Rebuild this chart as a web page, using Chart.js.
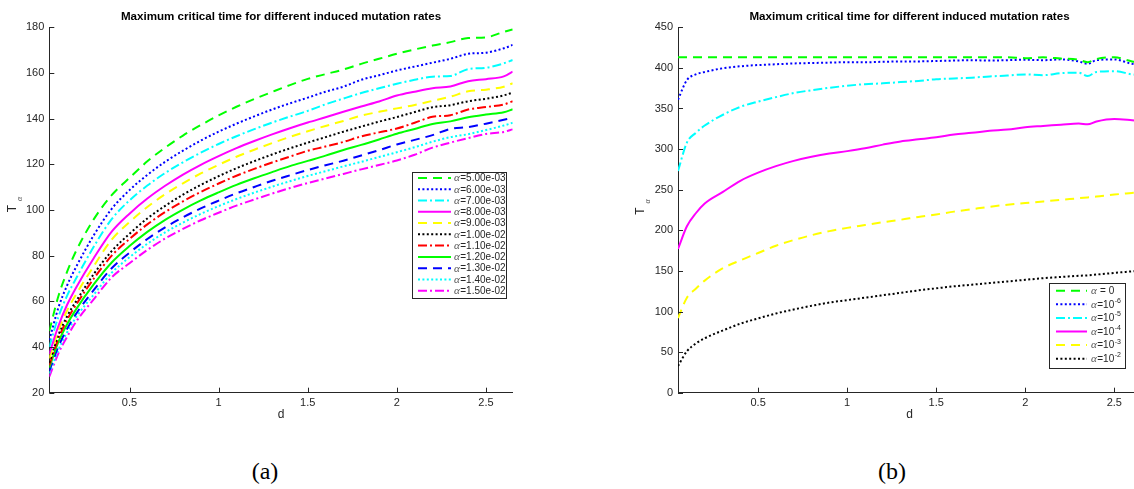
<!DOCTYPE html>
<html>
<head>
<meta charset="utf-8">
<script src="https://cdn.jsdelivr.net/npm/chart.js@4.4.0/dist/chart.umd.min.js"></script>
<style>
  html, body { margin: 0; padding: 0; background: #fff; width: 1134px; height: 489px; overflow: hidden; }
  .panel { position: absolute; top: 0; }
  #pa { left: 0; }
  #pb { left: 600px; }
  .cap { position: absolute; top: 454px; line-height: 34px; font-family: "Liberation Serif", "DejaVu Serif", serif;
         font-size: 24px; color: #000; transform: translateX(-50%); }
</style>
</head>
<body>
<div class="panel" id="pa"><canvas id="ca" width="540" height="440"></canvas></div>
<div class="panel" id="pb"><canvas id="cb" width="560" height="440"></canvas></div>
<div class="cap" style="left:265px">(a)</div>
<div class="cap" style="left:892px">(b)</div>

<script>
// ---------- panel (a): T_alpha versus d for induced mutation rates ----------
const dA = [0.05, 0.1, 0.15, 0.2, 0.3, 0.4, 0.5, 0.6, 0.7, 0.8, 0.9, 1.0, 1.1, 1.2, 1.3, 1.4,
            1.5, 1.6, 1.7, 1.8, 1.9, 2.0, 2.1, 2.2, 2.3, 2.4, 2.5, 2.6, 2.65];
const alphaA = ['5.00e-03', '6.00e-03', '7.00e-03', '8.00e-03', '9.00e-03', '1.00e-02',
                '1.10e-02', '1.20e-02', '1.30e-02', '1.40e-02', '1.50e-02'];
const T_a5e3  = [47, 62, 73, 82, 96, 106.5, 114.1, 121.3, 127.3, 132.6, 137.2, 141.4, 145.2, 148.6, 151.7, 154.7,
                 157.4, 159.5, 161.5, 164, 166.2, 168.4, 170.3, 172, 173.5, 175.3, 175.6, 178, 179];
const T_a6e3  = [43, 57, 67, 75, 89, 100.5, 108.7, 115.4, 121.1, 126, 130.4, 134.3, 137.8, 141, 144, 146.7,
                 149.2, 151.8, 154, 157, 159, 161.1, 162.8, 164.5, 166.2, 168.4, 168.9, 170.8, 172.3];
const T_a7e3  = [40, 53, 62.5, 70, 84, 96, 104.2, 110.7, 116.2, 120.9, 125.1, 128.9, 132.3, 135.4, 138.3, 140.9,
                 143.4, 146.3, 148.8, 151.2, 153.3, 155.3, 157, 158.4, 158.7, 161.7, 162.3, 164.2, 165.7];
const T_a8e3  = [37, 49, 58.5, 66, 79, 90.5, 98.4, 105, 110.6, 115.5, 119.8, 123.6, 127.1, 130.2, 133.1, 135.8,
                 138.3, 140.6, 143, 145.3, 147.5, 150.1, 151.8, 153.3, 154.1, 156.4, 157.3, 158.5, 160.6];
const T_a9e3  = [35, 47, 56, 63, 75.5, 87, 94.7, 101.3, 106.9, 111.7, 116, 119.8, 123.3, 126.4, 129.3, 132,
                 134.5, 136.8, 139, 141.3, 143, 144.5, 146, 147.8, 149.6, 152, 152.7, 154, 155.5];
const T_a10e3 = [33, 45, 53.5, 60, 72, 82, 89.6, 96.3, 101.8, 106.7, 111, 114.8, 118.3, 121.4, 124.3, 127,
                 129.5, 131.9, 134.3, 136.5, 138.7, 140.7, 142.9, 145, 145.9, 147.6, 148.7, 150.2, 151.4];
const T_a11e3 = [32, 43.5, 52, 58.5, 70, 80, 87.3, 93.7, 99.1, 103.8, 107.9, 111.6, 115, 118, 120.8, 123.4,
                 125.9, 127.8, 129.8, 132.2, 134, 135.7, 138.2, 140.8, 141.5, 144, 145.1, 146.2, 147.6];
const T_a12e3 = [31, 42, 50, 56.5, 67.5, 77, 84.2, 90.4, 95.7, 100.2, 104.2, 107.7, 111, 113.9, 116.6, 119.2,
                 121.5, 123.8, 126.3, 128.5, 130.9, 133.4, 135.5, 137.7, 138.8, 140.6, 141.8, 142.8, 144.1];
const T_a13e3 = [29.5, 40, 48, 54.5, 65, 74.5, 81.3, 87.3, 92.4, 96.8, 100.7, 104.1, 107.3, 110.1, 112.8, 115.2,
                 117.5, 119.6, 121.6, 123.9, 126.2, 128.7, 130.7, 132.8, 135.5, 136.3, 137.8, 139.5, 140.3];
const T_a14e3 = [28.5, 38.5, 46.5, 53, 63, 72.5, 79.3, 85.2, 90.2, 94.5, 98.3, 101.7, 104.8, 107.6, 110.2, 112.6,
                 114.9, 117, 119.1, 121.1, 123.2, 125.3, 127.5, 129.9, 131.9, 133.2, 135, 137, 138.2];
const T_a15e3 = [27, 37, 44.5, 51, 61, 70.5, 76.7, 82.5, 87.5, 91.7, 95.5, 98.8, 101.9, 104.6, 107.2, 109.6,
                 111.8, 113.8, 115.8, 117.8, 119.7, 121.7, 124.2, 127.3, 129.5, 131.5, 133.3, 134.2, 135.3];
const yTicksA = [20, 40, 60, 80, 100, 120, 140, 160, 180];

// ---------- panel (b): T_alpha versus d for alpha = 0 and powers of ten ----------
const dB = [0.05, 0.1, 0.15, 0.2, 0.3, 0.4, 0.5, 0.6, 0.7, 0.8, 0.9, 1.0, 1.1, 1.2, 1.3, 1.4,
            1.5, 1.6, 1.7, 1.8, 1.9, 2.0, 2.1, 2.2, 2.3, 2.35, 2.4, 2.5, 2.6, 2.65];
const alphaExpB = [null, -6, -5, -4, -3, -2];
const T_b0    = [413, 413, 413, 413, 413, 413, 413, 413, 413, 413, 413, 413, 413, 413, 413, 413,
                 413, 413, 413, 413, 413, 412, 413, 411.5, 410, 407, 411, 413, 408, 407];
const T_b1e6  = [361, 385, 392, 395, 399.5, 402, 403.5, 404.5, 405.5, 406, 406.5, 407, 407, 407.5, 408, 408,
                 408.5, 409, 409.5, 409, 409.5, 410, 409.5, 410.5, 408, 405, 409.5, 410.5, 405, 404];
const T_b1e5  = [273, 308, 320, 329, 342, 352, 358.5, 364, 369, 372.5, 375.5, 378, 380, 381, 382.5, 384,
                 386, 387, 388, 389.5, 390.5, 392, 391, 393.5, 394, 390, 395, 396, 392, 391];
const T_b1e4  = [177, 205, 221, 233, 247, 261, 271, 279, 285.5, 290.5, 294.5, 297.5, 301, 305.5, 309.5, 312,
                 314.5, 318, 320, 322.5, 324, 327, 328.5, 330, 331.5, 330.5, 334, 337, 335.5, 334.5];
const T_b1e3  = [92, 117, 128, 138, 153, 163, 172, 181, 188, 194, 199, 203, 206.5, 210, 213, 216.5,
                 219.5, 223, 226, 229, 231.5, 233.5, 235.5, 237.5, 239.5, 240.5, 241.5, 244, 246, 247];
const T_b1e2  = [33, 51, 60.5, 67, 76.5, 85, 91.5, 97.5, 102.5, 107, 111, 114, 117, 120, 123, 126,
                 128.5, 131, 133, 135, 137, 139, 141, 142.5, 144, 144.5, 145.5, 147.5, 149.5, 150.5];
const yTicksB = [0, 50, 100, 150, 200, 250, 300, 350, 400, 450];

const xTicks = [0.5, 1, 1.5, 2, 2.5];
const titleText = 'Maximum critical time for different induced mutation rates';

// ---------- styling ----------
const INK = '#262626';
const SANS = '"Liberation Sans", Arial, Helvetica, sans-serif';
const SERIF = '"Liberation Serif", "DejaVu Serif", serif';
const DASH = { dash: [9, 6], dot: [2, 2.4], dashdot: [9, 3, 2, 3], solid: [] };
const colorsA = ['#00ff00', '#0000ff', '#00ffff', '#ff00ff', '#ffff00', '#000000',
                 '#ff0000', '#00ff00', '#0000ff', '#00ffff', '#ff00ff'];
const stylesA = ['dash', 'dot', 'dashdot', 'solid', 'dash', 'dot', 'dashdot', 'solid', 'dash', 'dot', 'dashdot'];
const colorsB = ['#00ff00', '#0000ff', '#00ffff', '#ff00ff', '#ffff00', '#000000'];
const stylesB = ['dash', 'dot', 'dashdot', 'solid', 'dash', 'dot'];

// draws one legend label: italic alpha, then the rest (optionally with a superscript exponent)
function drawAlphaLabel(ctx, x, y, rest, sup, size) {
  ctx.textBaseline = 'middle';
  ctx.textAlign = 'left';
  ctx.fillStyle = '#555';
  ctx.font = `italic ${size + 1}px ${SERIF}`;
  ctx.fillText('α', x, y);
  let cx = x + ctx.measureText('α').width + 0.5;
  ctx.fillStyle = INK;
  ctx.font = `${size}px ${SANS}`;
  ctx.fillText(rest, cx, y);
  cx += ctx.measureText(rest).width;
  if (sup) {
    ctx.font = `${Math.round(size * 0.7)}px ${SANS}`;
    ctx.fillText(sup, cx + 0.5, y - 4);
  }
}

function decorPlugin(cfg) {
  return {
    id: 'panelDecor',
    afterDraw(chart) {
      const ctx = chart.ctx;
      const a = chart.chartArea;
      const xs = chart.scales.x, ys = chart.scales.y;
      ctx.save();
      // inward tick marks
      ctx.strokeStyle = INK;
      ctx.lineWidth = 1;
      ctx.setLineDash([]);
      ctx.beginPath();
      xTicks.forEach(v => {
        const px = Math.round(xs.getPixelForValue(v)) + 0.5;
        ctx.moveTo(px, a.bottom); ctx.lineTo(px, a.bottom - 5);
      });
      cfg.yTicks.forEach(v => {
        const py = Math.round(ys.getPixelForValue(v)) + 0.5;
        ctx.moveTo(a.left, py); ctx.lineTo(a.left + 5, py);
      });
      ctx.stroke();

      // title
      const cxArea = (a.left + a.right) / 2;
      ctx.fillStyle = '#000';
      ctx.font = `bold 11.6px ${SANS}`;
      ctx.textAlign = 'center';
      ctx.textBaseline = 'middle';
      ctx.fillText(titleText, cxArea, 17);

      // x-axis name
      ctx.fillStyle = INK;
      ctx.font = `12px ${SANS}`;
      ctx.fillText('d', cxArea, 415);

      // y-axis name: T with subscript alpha, rotated
      ctx.save();
      ctx.translate(cfg.tPos[0], cfg.tPos[1]);
      ctx.rotate(-Math.PI / 2);
      ctx.font = `12px ${SANS}`;
      ctx.fillText('T', 0, 0);
      ctx.font = `italic 8px ${SERIF}`;
      ctx.fillStyle = '#555';
      ctx.fillText('α', 9.5, 7);
      ctx.restore();

      // legend
      const L = cfg.legend;
      ctx.fillStyle = '#fff';
      ctx.fillRect(L.x, L.y, L.w, L.h);
      ctx.strokeStyle = INK;
      ctx.lineWidth = 1;
      ctx.strokeRect(L.x + 0.5, L.y + 0.5, L.w - 1, L.h - 1);
      chart.data.datasets.forEach((ds, i) => {
        const ry = L.row0 + i * L.step;
        ctx.beginPath();
        ctx.strokeStyle = ds.borderColor;
        ctx.lineWidth = 2;
        ctx.setLineDash(ds.borderDash);
        ctx.moveTo(L.sx0, ry); ctx.lineTo(L.sx1, ry);
        ctx.stroke();
        ctx.setLineDash([]);
        cfg.drawLabel(ctx, L.tx, ry + 0.5, i);
      });
      ctx.restore();
    }
  };
}

function buildChart(id, xs, series, colors, styles, names, yMin, yMax, yTicks, cfg) {
  const datasets = series.map((s, i) => ({
    label: names[i],
    data: xs.map((x, j) => ({ x: x, y: s[j] })),
    borderColor: colors[i],
    borderDash: DASH[styles[i]],
    borderWidth: 2,
    borderCapStyle: 'butt',
    pointRadius: 0,
    fill: false,
    cubicInterpolationMode: 'monotone'
  }));
  return new Chart(document.getElementById(id), {
    type: 'line',
    data: { datasets: datasets },
    options: {
      responsive: false,
      animation: false,
      devicePixelRatio: 1,
      layout: { padding: cfg.padding },
      plugins: { legend: { display: false }, tooltip: { enabled: false }, title: { display: false } },
      scales: {
        x: {
          type: 'linear', min: 0.05, max: 2.65,
          afterBuildTicks: s => { s.ticks = xTicks.map(v => ({ value: v })); },
          afterFit: s => { s.height = 30; },
          grid: { display: false, drawTicks: false },
          border: { display: true, color: INK, width: 1 },
          ticks: { color: INK, font: { family: SANS, size: 11 }, padding: 4, autoSkip: false, maxRotation: 0,
                   callback: v => String(v) }
        },
        y: {
          type: 'linear', min: yMin, max: yMax,
          afterBuildTicks: s => { s.ticks = yTicks.map(v => ({ value: v })); },
          afterFit: s => { s.width = cfg.yWidth; },
          grid: { display: false, drawTicks: false },
          border: { display: true, color: INK, width: 1 },
          ticks: { color: INK, font: { family: SANS, size: 11 }, padding: 5, autoSkip: false,
                   callback: v => String(v) }
        }
      }
    },
    plugins: [decorPlugin(Object.assign({ yTicks: yTicks }, cfg))]
  });
}

buildChart('ca', dA,
  [T_a5e3, T_a6e3, T_a7e3, T_a8e3, T_a9e3, T_a10e3, T_a11e3, T_a12e3, T_a13e3, T_a14e3, T_a15e3],
  colorsA, stylesA, alphaA, 20, 180, yTicksA, {
    padding: { left: 0, top: 27.3, right: 27.3, bottom: 17.3 },
    yWidth: 49.3,
    tPos: [12.5, 208.5],
    legend: { x: 412, y: 172, w: 95, h: 127, row0: 178, step: 11.27, sx0: 418, sx1: 451, tx: 454 },
    drawLabel: (ctx, x, y, i) => drawAlphaLabel(ctx, x, y, '=' + alphaA[i], null, 10)
  });

buildChart('cb', dB,
  [T_b0, T_b1e6, T_b1e5, T_b1e4, T_b1e3, T_b1e2],
  colorsB, stylesB, alphaExpB.map(e => e === null ? 'alpha = 0' : 'alpha = 1e' + e), 0, 450, yTicksB, {
    padding: { left: 28, top: 27.3, right: 19, bottom: 17.3 },
    yWidth: 50,
    tPos: [41, 211],
    legend: { x: 449, y: 283, w: 77, h: 86, row0: 290.7, step: 13.6, sx0: 456, sx1: 487, tx: 491 },
    drawLabel: (ctx, x, y, i) => {
      const e = alphaExpB[i];
      if (e === null) drawAlphaLabel(ctx, x, y, ' = 0', null, 10);
      else drawAlphaLabel(ctx, x, y, '=10', String(e), 10);
    }
  });
</script>
</body>
</html>
